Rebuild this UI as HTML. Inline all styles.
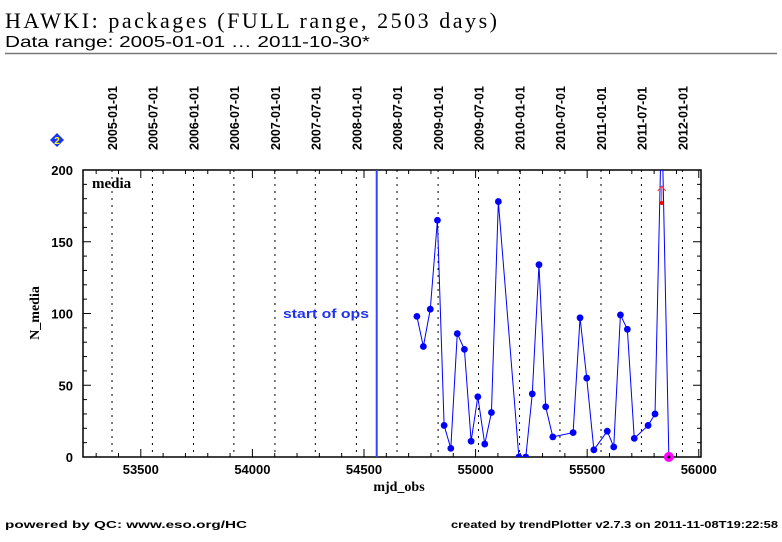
<!DOCTYPE html>
<html><head><meta charset="utf-8"><style>
html,body{margin:0;padding:0;background:#fff;}
svg{display:block;}
</style></head><body>
<svg id="chart" width="782" height="542" xmlns="http://www.w3.org/2000/svg">
<text x="5" y="28" font-family="Liberation Serif, serif" font-size="22" textLength="492" lengthAdjust="spacing">HAWKI: packages (FULL range, 2503 days)</text>
<text x="5" y="47" font-family="Liberation Sans, sans-serif" font-size="16" textLength="365" lengthAdjust="spacingAndGlyphs">Data range: 2005-01-01 … 2011-10-30*</text>
<line x1="5" y1="53.5" x2="777" y2="53.5" stroke="#777" stroke-width="1.5"/>
<g id="plot"></g>
<text x="5" y="528" font-family="Liberation Sans, sans-serif" font-weight="bold" font-size="10.5" textLength="242" lengthAdjust="spacingAndGlyphs">powered by QC: www.eso.org/HC</text>
<text x="451" y="528" font-family="Liberation Sans, sans-serif" font-weight="bold" font-size="10.5" textLength="327" lengthAdjust="spacingAndGlyphs">created by trendPlotter v2.7.3 on 2011-11-08T19:22:58</text>
</svg>
<script>
const mjd = [54737,54766,54797,54829,54859,54889,54918,54950,54980,55010,55041,55071,55102,55194,55225,55254,55284,55314,55346,55437,55468,55498,55530,55590,55619,55649,55680,55711,55773,55804,55834,55866];
const nMedia = [98,77,103,165,22,6,86,75,11,42,9,31,178,0,0,44,134,35,14,17,97,55,5,18,7,99,89,13,22,30,240,0];
const dateLabels = ["2005-01-01","2005-07-01","2006-01-01","2006-07-01","2007-01-01","2007-07-01","2008-01-01","2008-07-01","2009-01-01","2009-07-01","2010-01-01","2010-07-01","2011-01-01","2011-07-01","2012-01-01"];
const dateMjd = [53371,53552,53736,53917,54101,54282,54466,54648,54832,55013,55197,55378,55562,55743,55927];
const xTicks = [53500,54000,54500,55000,55500,56000];
const yTicks = [0,50,100,150,200];
const startOps = 54557;
const refValue = 177;

const NS="http://www.w3.org/2000/svg";
const L=83,R=701,T=170,B=457;
const X0=53241,X1=56010,Y0=0,Y1=200;
function sx(v){return L+(v-X0)/(X1-X0)*(R-L);}
function sy(v){return B-(v-Y0)/(Y1-Y0)*(B-T);}
const g=document.getElementById('plot');
function mk(tag,attrs,parent){const e=document.createElementNS(NS,tag);for(const k in attrs)e.setAttribute(k,attrs[k]);(parent||g).appendChild(e);return e;}

const defs=mk('defs',{});
const cp=mk('clipPath',{id:'clip'},defs);
mk('rect',{x:L,y:T,width:R-L,height:B-T},cp);

dateMjd.forEach((d,i)=>{
  const x=sx(d);
  const ln=mk('line',{x1:x,y1:T,x2:x,y2:B,stroke:'#000','stroke-width':1,'stroke-dasharray':'2,5'});
  
  
  const t=mk('text',{x:0,y:0,transform:`translate(${x+5},150) rotate(-90)`,'font-family':'Liberation Sans, sans-serif','font-weight':'bold','font-size':12.5});
  t.textContent=dateLabels[i];
  
  
});

const fr=mk('rect',{x:L,y:T,width:R-L,height:B-T,fill:'none',stroke:'#000','stroke-width':1.5});



for(let v=53300;v<=56000;v+=100){
  const x=sx(v);const major=v%500===0;const h=major?8:4;
  mk('line',{x1:x,y1:B,x2:x,y2:B-h,stroke:'#000'});
  mk('line',{x1:x,y1:T,x2:x,y2:T+h,stroke:'#000'});
}
xTicks.forEach(v=>{
  const t=mk('text',{x:sx(v),y:474,'text-anchor':'middle','font-family':'Liberation Sans, sans-serif','font-weight':'bold','font-size':13});
  t.textContent=v;
  
  
});
for(let v=0;v<=200;v+=10){
  const y=sy(v);const major=v%50===0;const h=major?8:4;
  mk('line',{x1:L,y1:y,x2:L+h,y2:y,stroke:'#000'});
  mk('line',{x1:R,y1:y,x2:R-h,y2:y,stroke:'#000'});
}
yTicks.forEach(v=>{
  const t=mk('text',{x:73,y:sy(v)+5,'text-anchor':'end','font-family':'Liberation Sans, sans-serif','font-weight':'bold','font-size':13});
  t.textContent=v;
  
  
});
let t=mk('text',{x:399,y:491,'text-anchor':'middle','font-family':'Liberation Serif, serif','font-weight':'bold','font-size':14});
t.textContent='mjd_obs';


t=mk('text',{x:0,y:0,transform:'translate(39,313) rotate(-90)','text-anchor':'middle','font-family':'Liberation Serif, serif','font-weight':'bold','font-size':14});
t.textContent='N_media';


t=mk('text',{x:92,y:188,'font-family':'Liberation Serif, serif','font-weight':'bold','font-size':15});
t.textContent='media';



const so=mk('line',{x1:sx(startOps),y1:T,x2:sx(startOps),y2:B,stroke:'#3344ff','stroke-width':2});


t=mk('text',{x:369,y:318,'text-anchor':'end','font-family':'Liberation Sans, sans-serif','font-weight':'bold','font-size':13,fill:'#2233ee',textLength:86,lengthAdjust:'spacingAndGlyphs'});
t.textContent='start of ops';



const sg=mk('g',{'clip-path':'url(#clip)'});
const pts=mjd.map((d,i)=>sx(d)+','+sy(nMedia[i])).join(' ');
const pl=mk('polyline',{points:pts,fill:'none',stroke:'#0000ff','stroke-width':1},sg);


mjd.forEach((d,i)=>{
  if(i===mjd.length-1) return;
  const c=mk('circle',{cx:sx(d),cy:sy(nMedia[i]),r:3.4,fill:'#0000ff'},sg);
  
  
});
const li=mjd.length-1;
const lc=mk('circle',{cx:sx(mjd[li]),cy:sy(nMedia[li]),r:5,fill:'#ff00ff'});


mk('circle',{cx:sx(mjd[li]),cy:sy(nMedia[li]),r:1.5,fill:'#000'});
const rx=sx(mjd[li-1]), ry=sy(refValue);
const ra=mk('path',{d:`M${rx},${ry} L${rx},${ry-16} M${rx-4},${ry-12} L${rx},${ry-17} L${rx+4},${ry-12}`,stroke:'#ff3333','stroke-width':1,fill:'none'});


mk('circle',{cx:rx,cy:ry,r:2,fill:'#ff0000'});

const dg=mk('g',{});


mk('polygon',{points:'57,133 64,140 57,147 50,140',fill:'#1a33ff'},dg);
const dt=mk('text',{x:57,y:144,'text-anchor':'middle','font-family':'Liberation Sans, sans-serif','font-weight':'bold','font-size':10,fill:'#ffff00'},dg);
dt.textContent='2';
</script>
</body></html>
